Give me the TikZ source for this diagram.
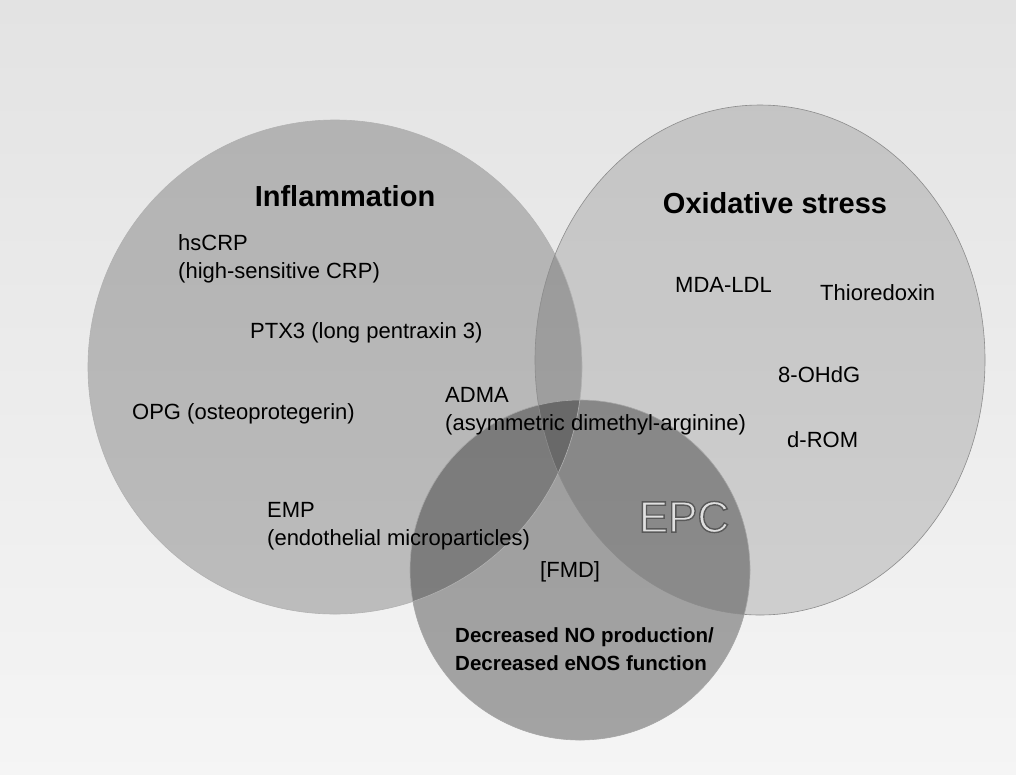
\documentclass[tikz,border=0pt]{standalone}
\usepackage{fontspec}
\setmainfont{Liberation Sans}
\newcommand{\outlinedtext}[1]{\special{pdf:literal 2 Tr 1.4 w 0.35 G}#1\special{pdf:literal 0 Tr}}
\begin{document}
\begin{tikzpicture}[x=1pt,y=-1pt,
  lbl/.style={font=\fontsize{22}{27.5}\selectfont, inner sep=0pt, anchor=west, align=left, text=black},
  ttl/.style={font=\fontsize{29}{32}\selectfont\bfseries, inner sep=0pt, text=black},
  nolbl/.style={font=\fontsize{20.5}{27.5}\selectfont\bfseries, inner sep=0pt, anchor=west, align=left, text=black},
  epclbl/.style={font=\fontsize{44}{46}\selectfont, inner sep=0pt, text=black!12},
  venn/.style={fill=black},
  rim/.style={draw=black!45, line width=0.6pt}]
\shade[top color=black!11, bottom color=black!4] (0,0) rectangle (1016,774);
\useasboundingbox (0,0) rectangle (1016,774);

% circles
\path[venn, fill opacity=0.22] (335,367) circle[radius=247];
\path[venn, fill opacity=0.14] (760,360) ellipse[x radius=225, y radius=255];
\path[venn, fill opacity=0.33] (580,570) circle[radius=170];
\draw[rim, draw=black!30] (335,367) circle[radius=247];
\draw[rim] (760,360) ellipse[x radius=225, y radius=255];
\draw[rim, draw=black!35] (580,570) circle[radius=170];

% titles
\node[ttl] (infl) at (345,196) {Inflammation};
\node[ttl] (oxid) at (775,203) {Oxidative stress};
\node[epclbl] (epc) at (684,517) {\outlinedtext{EPC}};

% inflammation markers
\node[lbl] (hscrp) at (178,259) {hsCRP\\(high-sensitive CRP)};
\node[lbl] (ptx3) at (250,333) {PTX3 (long pentraxin 3)};
\node[lbl] (opg) at (132,414) {OPG (osteoprotegerin)};
\node[lbl] (adma) at (445,411) {ADMA\\(asymmetric dimethyl-arginine)};
\node[lbl] (emp) at (267,526) {EMP\\(endothelial microparticles)};

% oxidative stress markers
\node[lbl] (mda) at (675,285) {MDA-LDL};
\node[lbl] (thio) at (820,293) {Thioredoxin};
\node[lbl] (ohdg) at (778,375) {8-OHdG};
\node[lbl] (drom) at (787,440) {d-ROM};

% EPC / endothelium
\node[lbl] (fmd) at (540,572) {[FMD]};
\node[nolbl] (no) at (455,649) {Decreased NO production/\\Decreased eNOS function};
\end{tikzpicture}
\end{document}
